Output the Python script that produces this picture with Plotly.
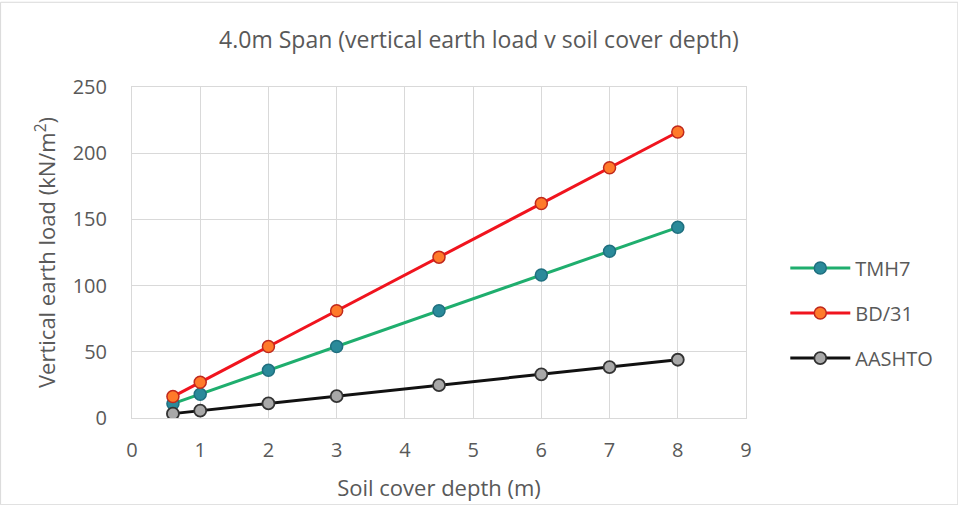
import plotly.graph_objects as go

depth = [0.6, 1, 2, 3, 4.5, 6, 7, 8]
tmh7 = [10.8, 18, 36, 54, 81, 108, 126, 144]
bd31 = [16.2, 27, 54, 81, 121.5, 162, 189, 216]
aashto = [3.3, 5.5, 11, 16.5, 24.8, 33, 38.5, 44]

FONT = "Open Sans"
GREY = "#595959"
fig = go.Figure()
fig.add_trace(go.Scatter(x=depth, y=tmh7, name="TMH7", mode="lines+markers", legendgroup="a",
    line=dict(color="#1fae6e", width=3),
    marker=dict(size=12, color="#2a8a9a", line=dict(color="#1f6f7f", width=1.5))))
fig.add_trace(go.Scatter(x=depth, y=bd31, name="BD/31", mode="lines+markers", legendgroup="b",
    line=dict(color="#f0141e", width=3),
    marker=dict(size=12, color="#ff7a2a", line=dict(color="#c0281c", width=1.5))))
fig.add_trace(go.Scatter(x=depth, y=aashto, name="AASHTO", mode="lines+markers", legendgroup="c",
    line=dict(color="#111111", width=3),
    marker=dict(size=12, color="#a8a8a8", line=dict(color="#333333", width=1.8))))

fig.update_layout(
    width=958, height=505,
    margin=dict(l=132, r=212, t=87, b=87, autoexpand=False),
    paper_bgcolor="white", plot_bgcolor="white",
    font=dict(family=FONT, color=GREY, size=20),
    title=dict(text="4.0m Span (vertical earth load v soil cover depth)",
               x=0.5, xanchor="center", xref="container", y=1 - 40 / 505, yref="container",
               yanchor="middle",
               font=dict(size=23, color=GREY, family=FONT)),
    xaxis=dict(range=[0, 9], dtick=1, tick0=0, showgrid=True, gridcolor="#d9d9d9",
               gridwidth=1, zeroline=False, showline=True, linecolor="#d9d9d9",
               mirror=True, ticks="", ticklabelstandoff=14,
               title=dict(text="Soil cover depth (m)", font=dict(size=22, color=GREY), standoff=18),
               tickfont=dict(size=20, color=GREY)),
    yaxis=dict(range=[0, 250], dtick=50, showgrid=True, gridcolor="#d9d9d9",
               gridwidth=1, zeroline=False, showline=True, linecolor="#d9d9d9",
               mirror=True, ticks="", ticklabelstandoff=20,
               title=dict(text="Vertical earth load (kN/m<sup>2</sup>)", font=dict(size=22, color=GREY), standoff=10),
               tickfont=dict(size=20, color=GREY)),
    legend=dict(x=1.064, y=0.317, xanchor="left", yanchor="middle",
                font=dict(size=20, color=GREY), tracegroupgap=16,
                traceorder="grouped", itemwidth=60,
                itemsizing="trace", bgcolor="rgba(0,0,0,0)"),
    shapes=[dict(type="rect", xref="paper", yref="paper", x0=-0.214, x1=1.345, y0=-0.262, y1=1.256,
                 line=dict(color="#d9d9d9", width=1))],
)
fig.write_html("out.html")
